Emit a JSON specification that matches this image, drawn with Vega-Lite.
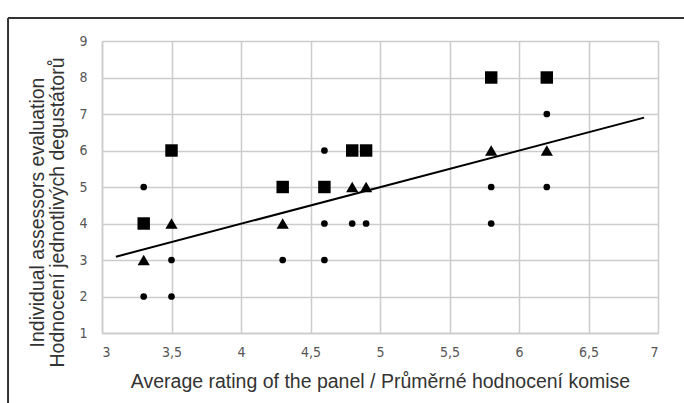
{
  "$schema": "https://vega.github.io/schema/vega-lite/v6.json",
  "width": 556,
  "height": 292,
  "autosize": {"type": "none"},
  "padding": {"left": 102, "top": 41, "right": 26, "bottom": 70},
  "background": "white",
  "config": {
    "view": {"stroke": null},
    "font": "Liberation Sans"
  },
  "datasets": {
    "pts": [
      {"avg": 3.3, "score": 4, "kind": "square"},
      {"avg": 3.3, "score": 3, "kind": "triangle"},
      {"avg": 3.3, "score": 5, "kind": "circle"},
      {"avg": 3.3, "score": 2, "kind": "circle"},
      {"avg": 3.5, "score": 6, "kind": "square"},
      {"avg": 3.5, "score": 4, "kind": "triangle"},
      {"avg": 3.5, "score": 3, "kind": "circle"},
      {"avg": 3.5, "score": 2, "kind": "circle"},
      {"avg": 4.3, "score": 5, "kind": "square"},
      {"avg": 4.3, "score": 4, "kind": "triangle"},
      {"avg": 4.3, "score": 3, "kind": "circle"},
      {"avg": 4.6, "score": 5, "kind": "square"},
      {"avg": 4.6, "score": 6, "kind": "circle"},
      {"avg": 4.6, "score": 4, "kind": "circle"},
      {"avg": 4.6, "score": 3, "kind": "circle"},
      {"avg": 4.8, "score": 6, "kind": "square"},
      {"avg": 4.8, "score": 5, "kind": "triangle"},
      {"avg": 4.8, "score": 4, "kind": "circle"},
      {"avg": 4.9, "score": 6, "kind": "square"},
      {"avg": 4.9, "score": 5, "kind": "triangle"},
      {"avg": 4.9, "score": 4, "kind": "circle"},
      {"avg": 5.8, "score": 8, "kind": "square"},
      {"avg": 5.8, "score": 6, "kind": "triangle"},
      {"avg": 5.8, "score": 5, "kind": "circle"},
      {"avg": 5.8, "score": 4, "kind": "circle"},
      {"avg": 6.2, "score": 8, "kind": "square"},
      {"avg": 6.2, "score": 6, "kind": "triangle"},
      {"avg": 6.2, "score": 7, "kind": "circle"},
      {"avg": 6.2, "score": 5, "kind": "circle"}
    ],
    "trend": [
      {"avg": 3.1, "score": 3.09},
      {"avg": 6.9, "score": 6.9}
    ],
    "frameTop": [
      {"avg": 2.324, "avg2": 7.3, "score": 9.63}
    ],
    "frameLeft": [
      {"avg": 2.324, "score": 9.63, "score2": -1.2}
    ]
  },
  "encoding": {
    "x": {
      "field": "avg", "type": "quantitative",
      "scale": {"domain": [3, 7], "nice": false, "zero": false},
      "axis": {
        "values": [3, 3.5, 4, 4.5, 5, 5.5, 6, 6.5, 7],
        "format": ".1~f",
        "labelExpr": "replace(datum.label, '.', ',')",
        "labelOverlap": false,
        "grid": true, "gridColor": "#cccccc", "gridWidth": 1.5,
        "domain": true, "domainColor": "#cccccc", "domainWidth": 1.5,
        "ticks": false,
        "labelFont": "Liberation Sans Narrow, DejaVu Sans Condensed, sans-serif",
        "labelFontSize": 14, "labelColor": "#555555", "labelPadding": 12,
        "title": "Average rating of the panel / Průměrné hodnocení komise",
        "titleFont": "Liberation Sans", "titleFontSize": 19.5, "titleFontWeight": "normal",
        "titleColor": "#333333", "titlePadding": 13
      }
    },
    "y": {
      "field": "score", "type": "quantitative",
      "scale": {"domain": [1, 9], "nice": false, "zero": false},
      "axis": {
        "values": [1, 2, 3, 4, 5, 6, 7, 8, 9],
        "labelOverlap": false,
        "grid": true, "gridColor": "#cccccc", "gridWidth": 1.5,
        "domain": true, "domainColor": "#cccccc", "domainWidth": 1.5,
        "ticks": false,
        "labelFont": "Liberation Sans Narrow, DejaVu Sans Condensed, sans-serif",
        "labelFontSize": 14, "labelColor": "#555555", "labelPadding": 15,
        "title": ["Individual assessors evaluation", "Hodnocení jednotlivých degustátorů"],
        "titleFont": "Liberation Sans", "titleFontSize": 19.5, "titleFontWeight": "normal",
        "titleColor": "#333333", "titleLineHeight": 20,
        "titleX": -74, "titleY": 171, "titleAngle": -90,
        "titleBaseline": "top", "titleAlign": "center"
      }
    }
  },
  "layer": [
    {
      "data": {"name": "pts"},
      "transform": [{"filter": "datum.kind === 'square'"}],
      "mark": {"type": "point", "shape": "square", "size": 155, "filled": true, "opacity": 1, "color": "black"}
    },
    {
      "data": {"name": "pts"},
      "transform": [{"filter": "datum.kind === 'triangle'"}],
      "mark": {"type": "point", "shape": "triangle-up", "size": 150, "filled": true, "opacity": 1, "color": "black"}
    },
    {
      "data": {"name": "pts"},
      "transform": [{"filter": "datum.kind === 'circle'"}],
      "mark": {"type": "point", "shape": "circle", "size": 45, "filled": true, "opacity": 1, "color": "black"}
    },
    {
      "data": {"name": "trend"},
      "mark": {"type": "line", "color": "black", "strokeWidth": 2}
    },
    {
      "data": {"name": "frameTop"},
      "mark": {"type": "rule", "color": "#333333", "strokeWidth": 2, "clip": false},
      "encoding": {
        "x2": {"field": "avg2"}
      }
    },
    {
      "data": {"name": "frameLeft"},
      "mark": {"type": "rule", "color": "#333333", "strokeWidth": 2, "clip": false},
      "encoding": {
        "y2": {"field": "score2"}
      }
    }
  ]
}
